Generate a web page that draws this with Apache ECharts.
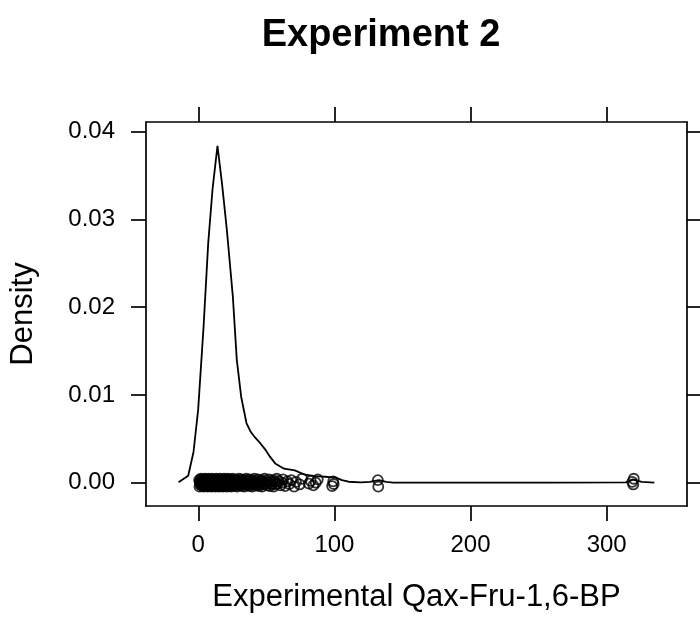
<!DOCTYPE html>
<html>
<head>
<meta charset="utf-8">
<script src="https://cdn.jsdelivr.net/npm/echarts@6/dist/echarts.min.js"></script>
<style>html,body{margin:0;padding:0;background:#fff}#c{width:700px;height:619px}</style>
</head>
<body>
<div id="c"></div>
<script>
// Density curve (x, density)
var curveX = [-14.5, -7.4, -3.5, -0.1, 3.9, 7.3, 10.5, 14.1, 17.5, 21, 25.4, 28.3, 31.5, 35.4, 38.5, 42, 45.5, 49.1, 52.5, 56.5, 63, 70.9, 77.5, 85.4, 93.2, 101.1, 105.5, 110.4, 119.5, 126, 132.7, 138, 143.2, 200, 260, 314, 319.3, 325.8, 335];
var curveY = [0.00005, 0.0008, 0.0035, 0.0083, 0.0178, 0.0273, 0.0335, 0.0384, 0.0340, 0.0288, 0.0212, 0.0140, 0.0098, 0.0068, 0.0058, 0.0051, 0.0045, 0.0038, 0.0030, 0.0022, 0.0016, 0.0014, 0.00096, 0.00076, 0.00068, 0.00057, 0.0003, 0.00011, 0.00003, 0.0001, 0.0003, 0.0001, 0.00002, 0, 0, 0.00003, 0.00035, 0.0001, 0];
// Observed sample values (plotted as open circles along the baseline)
var sampleX = [0.6, 0.9, 1.1, 1.4, 1.8, 2.0, 2.2, 2.5, 2.7, 2.9, 3.1, 3.3, 3.6, 3.8, 3.9, 4.2, 4.4, 4.7, 4.9, 5.1, 5.3, 5.5, 5.7, 6.0, 6.2, 6.4, 6.6, 6.8, 7.1, 7.2, 7.3, 7.6, 7.9, 8.1, 8.4, 8.6, 8.8, 8.9, 9.1, 9.4, 9.7, 9.9, 10.1, 10.2, 10.4, 10.7, 11.0, 11.2, 11.3, 11.6, 11.9, 12.1, 12.3, 12.5, 12.6, 12.9, 13.2, 13.4, 13.5, 13.8, 14.1, 14.3, 14.5, 14.6, 14.8, 15.1, 15.4, 15.6, 15.7, 16.0, 16.3, 16.5, 16.7, 16.8, 17.0, 17.3, 17.6, 17.8, 17.9, 18.2, 18.5, 18.7, 18.9, 19.0, 19.2, 19.5, 19.8, 20.0, 20.1, 20.4, 20.7, 20.9, 21.1, 21.2, 21.4, 21.7, 22.0, 22.2, 22.3, 22.6, 22.9, 23.1, 23.4, 23.6, 23.8, 24.2, 24.5, 24.8, 25.1, 25.4, 25.7, 26.1, 26.4, 26.8, 27.1, 27.5, 27.9, 28.2, 28.6, 29.0, 29.4, 29.8, 30.2, 30.5, 30.9, 31.4, 31.8, 32.2, 32.6, 33.1, 33.5, 33.9, 34.3, 34.8, 35.2, 35.7, 36.1, 36.6, 37.0, 37.5, 37.9, 38.4, 38.8, 39.3, 39.8, 40.2, 40.7, 41.3, 41.9, 42.4, 42.8, 43.4, 44.0, 44.6, 45.1, 45.7, 46.3, 46.9, 47.4, 48.1, 48.7, 49.3, 49.9, 50.6, 51.3, 52.0, 52.6, 53.3, 54.0, 54.8, 55.4, 56.2, 56.9, 57.6, 58.2, 59.1, 60.5, 61.4, 62.3, 63.8, 65.4, 66.9, 68.3, 70.4, 71.8, 74.5, 76.3, 81.2, 82.6, 84.5, 86.3, 87.8, 98.3, 99.1, 99.5, 131.9, 132.2, 318.8, 319.5, 319.9];
var xTicks = [0, 100, 200, 300];
var yTicks = [0, 0.01, 0.02, 0.03, 0.04];
var titleText = 'Experiment 2';
var xName = 'Experimental Qax-Fru-1,6-BP';
var yName = 'Density';

// vertical jitter pattern for the rug points (style only)
var jitter = [0.0003, -0.00045, 0.0001, -0.0002, 0.00045, -0.0001, 0.0002, -0.0003, 0, 0.00038, -0.00038, 0.00015, -0.00015];

var FONT = 'Liberation Sans, Arial, Helvetica, sans-serif';
var curve = curveX.map(function (x, i) { return [x, curveY[i]]; });
var pts = sampleX.map(function (x, i) { return [x, jitter[i % jitter.length]]; });

var lineSt = { color: '#000', width: 1.7 };
var tickSt = { show: true, inside: false, length: 15, lineStyle: lineSt };
var axLine = { show: true, onZero: false, lineStyle: lineSt };

var chart = echarts.init(document.getElementById('c'), null, { renderer: 'canvas' });
chart.setOption({
  animation: false,
  backgroundColor: '#fff',
  title: {
    text: titleText, left: 376, top: 12, textAlign: 'center',
    textStyle: { fontFamily: FONT, fontSize: 38, fontWeight: 'bold', color: '#000', lineHeight: 38 }
  },
  grid: { left: 146, right: 13, top: 122, bottom: 113, containLabel: false },
  xAxis: [{
    type: 'value', position: 'bottom', min: -38.4, max: 359,
    axisLine: axLine,
    axisTick: Object.assign({ customValues: xTicks }, tickSt),
    axisLabel: { customValues: xTicks, fontFamily: FONT, fontSize: 24, color: '#000', margin: 27 },
    splitLine: { show: false },
    name: xName, nameLocation: 'middle', nameGap: 76,
    nameTextStyle: { fontFamily: FONT, fontSize: 31, color: '#000' }
  }, {
    type: 'value', position: 'top', min: -38.4, max: 359,
    axisLine: axLine,
    axisTick: Object.assign({ customValues: xTicks }, tickSt),
    axisLabel: { show: false },
    splitLine: { show: false }
  }],
  yAxis: [{
    type: 'value', position: 'left', min: -0.002655, max: 0.04111,
    axisLine: axLine,
    axisTick: Object.assign({ customValues: yTicks }, tickSt),
    axisLabel: { customValues: yTicks, fontFamily: FONT, fontSize: 24, color: '#000', margin: 31,
      formatter: function (v) { return v.toFixed(2); } },
    splitLine: { show: false },
    name: yName, nameLocation: 'middle', nameGap: 107,
    nameTextStyle: { fontFamily: FONT, fontSize: 31, color: '#000' }
  }, {
    type: 'value', position: 'right', min: -0.002655, max: 0.04111,
    axisLine: axLine,
    axisTick: Object.assign({ customValues: yTicks }, tickSt),
    axisLabel: { show: false },
    splitLine: { show: false }
  }],
  series: [{
    type: 'line', data: curve, xAxisIndex: 0, yAxisIndex: 0,
    showSymbol: false, symbol: 'none', smooth: false,
    lineStyle: { color: '#000', width: 1.8 }
  }, {
    type: 'scatter', data: pts, xAxisIndex: 0, yAxisIndex: 0,
    symbol: 'circle', symbolSize: 10,
    itemStyle: { color: 'rgba(0,0,0,0)', borderColor: '#000', borderWidth: 1.8 }
  }]
});
</script>
</body>
</html>
